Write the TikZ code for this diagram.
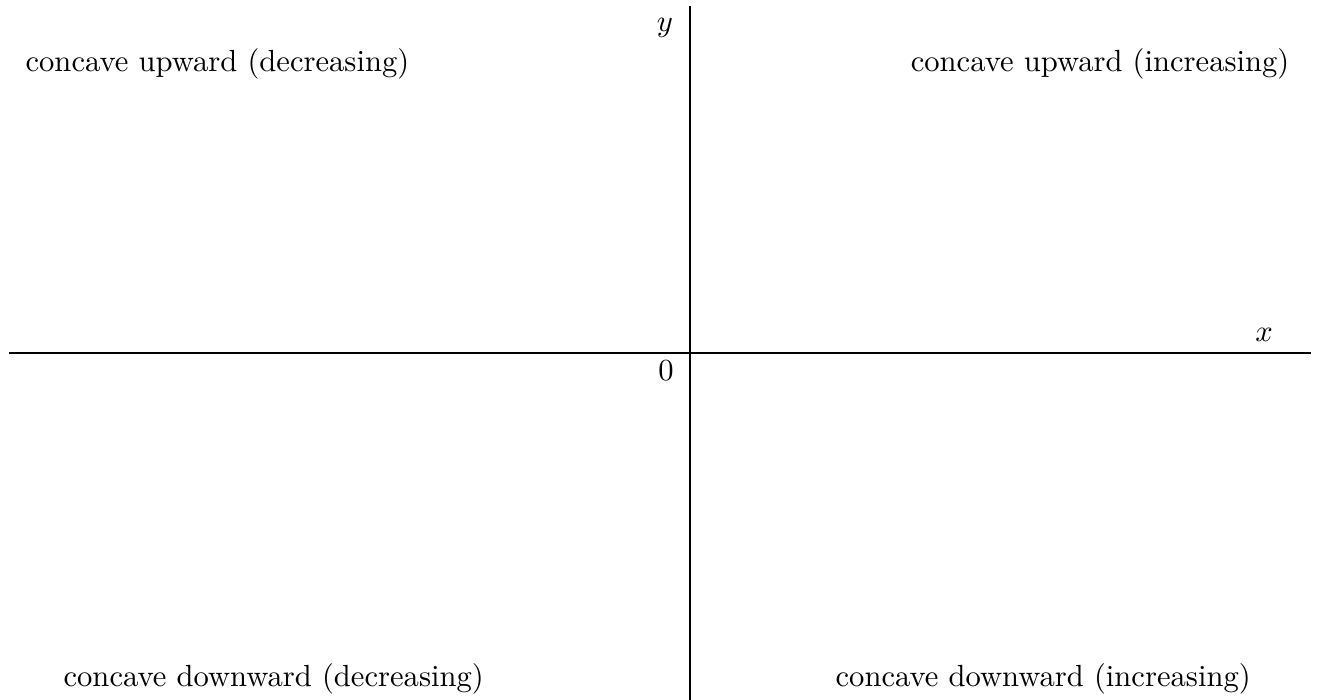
\documentclass[tikz,border=0pt]{standalone}
\begin{document}
\begin{tikzpicture}[x=0.3268pt,y=-0.3268pt,
  lbl/.style={inner sep=0pt},
  axis/.style={line width=0.4pt,black}]
\useasboundingbox (0,0) rectangle (1321,700);
\coordinate (xl) at (9,353);
\coordinate (xr) at (1311,353);
\coordinate (yt) at (690,6);
\coordinate (yb) at (690,700);
\draw[axis] (xl) -- (xr);
\draw[axis] (yt) -- (yb);
\node[lbl,anchor=base] (ylab) at (665,32) {$y$};
\node[lbl,anchor=base] (xlab) at (1264,342) {$x$};
\node[lbl,anchor=base] (zero) at (666,381) {$0$};
\node[lbl,anchor=base west] (tl) at (25,72) {concave upward (decreasing)};
\node[lbl,anchor=base east] (tr) at (1290,72) {concave upward (increasing)};
\node[lbl,anchor=base west] (bl) at (63,687) {concave downward (decreasing)};
\node[lbl,anchor=base west] (br) at (835,687) {concave downward (increasing)};
\end{tikzpicture}
\end{document}
